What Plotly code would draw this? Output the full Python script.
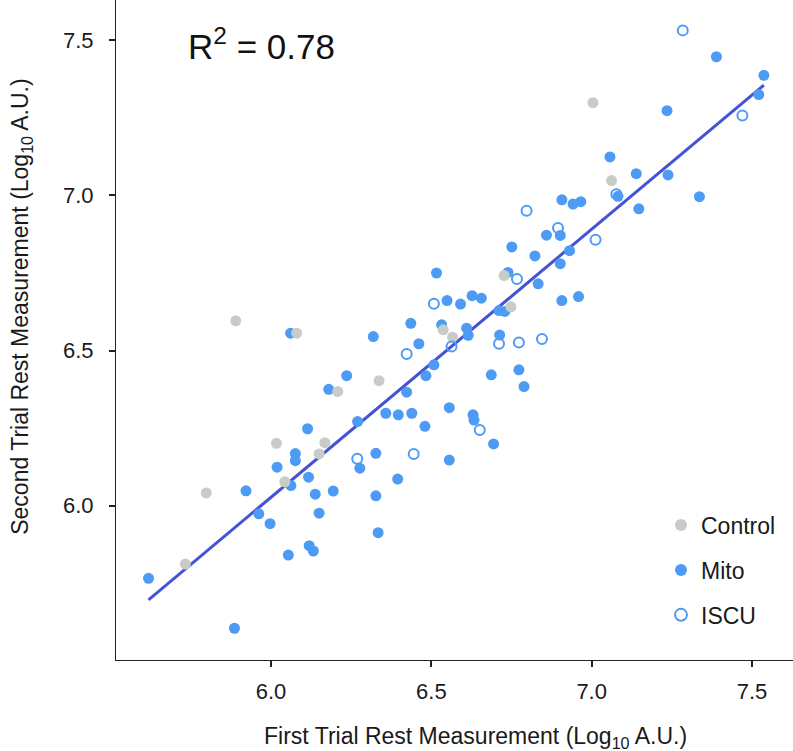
import numpy as np
import plotly.graph_objects as go

# ---- data (Log10 A.U.) ----
control_x = [5.890, 6.080, 6.537, 7.004, 7.062, 6.727, 6.748, 6.566, 6.208, 6.337,
             6.017, 6.168, 6.150, 6.043, 5.798, 5.733]
control_y = [6.596, 6.556, 6.567, 7.299, 7.048, 6.742, 6.641, 6.543, 6.368, 6.403,
             6.201, 6.203, 6.167, 6.077, 6.041, 5.812]

iscu_x = [6.508, 7.284, 7.470, 7.077, 6.797, 6.895, 7.012, 6.767, 6.563, 6.711,
          6.773, 6.845, 6.651, 6.423, 6.269, 6.445]
iscu_y = [6.651, 7.532, 7.258, 7.004, 6.951, 6.895, 6.857, 6.731, 6.513, 6.522,
          6.526, 6.537, 6.244, 6.489, 6.151, 6.167]

mito_x = [6.061, 6.516, 6.549, 6.436, 6.532, 6.319, 7.389, 7.537, 7.521, 7.235,
          7.057, 7.139, 7.238, 7.082, 7.336, 7.147, 6.907, 6.942, 6.966, 6.902,
          6.859, 6.751, 6.823, 6.931, 6.902, 6.833, 6.739, 6.591, 6.627, 6.656,
          6.907, 6.959, 6.711, 6.729, 6.610, 6.615, 6.713, 6.687, 6.773, 6.789,
          6.556, 6.630, 6.633, 6.694, 6.556, 6.461, 6.508, 6.483, 6.236, 6.180,
          6.423, 6.358, 6.397, 6.439, 6.480, 6.270, 6.114, 6.076, 6.076, 6.277,
          6.327, 6.019, 6.117, 6.395, 6.062, 6.138, 6.194, 6.327, 5.922, 5.962,
          5.997, 6.150, 6.334, 6.054, 6.119, 6.132, 5.618, 5.886]
mito_y = [6.556, 6.750, 6.661, 6.588, 6.583, 6.545, 7.447, 7.387, 7.325, 7.273,
          7.124, 7.070, 7.066, 6.997, 6.996, 6.957, 6.986, 6.972, 6.980, 6.871,
          6.872, 6.834, 6.805, 6.822, 6.780, 6.715, 6.752, 6.650, 6.677, 6.669,
          6.661, 6.674, 6.629, 6.626, 6.572, 6.549, 6.550, 6.422, 6.438, 6.384,
          6.316, 6.293, 6.276, 6.199, 6.147, 6.522, 6.454, 6.419, 6.419, 6.375,
          6.366, 6.298, 6.293, 6.298, 6.256, 6.271, 6.248, 6.168, 6.145, 6.121,
          6.169, 6.124, 6.092, 6.086, 6.065, 6.037, 6.047, 6.032, 6.048, 5.974,
          5.942, 5.976, 5.913, 5.841, 5.871, 5.854, 5.766, 5.605]

tick_vals = [6.0, 6.5, 7.0, 7.5]
tick_text = ["6.0", "6.5", "7.0", "7.5"]
r2_label = "R<sup>2</sup> = 0.78"

# ---- regression line fitted on all points ----
all_x = np.array(control_x + mito_x + iscu_x)
all_y = np.array(control_y + mito_y + iscu_y)
slope, intercept = np.polyfit(all_x, all_y, 1)
fit_x = np.array([all_x.min(), all_x.max()])
fit_y = slope * fit_x + intercept

BLUE = "#4d9bf5"
GRAY = "#c7ccc9"
LINE = "#4452d6"
FONT = "Liberation Sans, Arial, Helvetica, sans-serif"

fig = go.Figure()
fig.add_trace(go.Scatter(x=fit_x, y=fit_y, mode="lines",
                         line=dict(color=LINE, width=3), showlegend=False, hoverinfo="skip"))
fig.add_trace(go.Scatter(x=mito_x, y=mito_y, mode="markers", name="Mito",
                         legendgroup="b", legendrank=2,
                         marker=dict(color=BLUE, size=11, line=dict(width=0))))
fig.add_trace(go.Scatter(x=control_x, y=control_y, mode="markers", name="Control",
                         legendgroup="a", legendrank=1,
                         marker=dict(color=GRAY, size=11, line=dict(width=0))))
fig.add_trace(go.Scatter(x=iscu_x, y=iscu_y, mode="markers", name="ISCU",
                         legendgroup="c", legendrank=3,
                         marker=dict(symbol="circle-open", color=BLUE, size=10,
                                     line=dict(width=2, color=BLUE))))

axis_common = dict(showgrid=False, zeroline=False, showline=True, linecolor="#222",
                   linewidth=1.2, ticks="outside", ticklen=6, tickwidth=1.5,
                   tickcolor="#222", tickfont=dict(family=FONT, size=22, color="#1a1a1a"),
                   tickvals=tick_vals, ticktext=tick_text)

fig.update_layout(
    width=793, height=751,
    margin=dict(l=116, r=0, t=0, b=91),
    paper_bgcolor="white", plot_bgcolor="white",
    font=dict(family=FONT, color="#1a1a1a"),
    xaxis=dict(range=[5.5166, 7.6278], ticklabelstandoff=5, **axis_common),
    yaxis=dict(range=[5.5027, 7.6299], ticklabelstandoff=11, **axis_common),
    legend=dict(x=0.805, y=0.237, xanchor="left", yanchor="top",
                font=dict(family=FONT, size=23, color="#1a1a1a"),
                tracegroupgap=12, traceorder="grouped", bgcolor="rgba(0,0,0,0)",
                itemsizing="constant"),
    annotations=[
        dict(text=r2_label, xref="paper", yref="paper", x=0.104, y=0.933,
             xanchor="left", yanchor="middle", showarrow=False,
             font=dict(family=FONT, size=35, color="#111")),
        dict(text="First Trial Rest Measurement (Log<sub>10</sub> A.U.)",
             xref="paper", yref="paper", x=0.531, y=-0.117,
             xanchor="center", yanchor="middle", showarrow=False,
             font=dict(family=FONT, size=23, color="#1a1a1a")),
        dict(text="Second Trial Rest Measurement (Log<sub>10</sub> A.U.)",
             xref="paper", yref="paper", x=-0.139, y=0.535, textangle=-90,
             xanchor="center", yanchor="middle", showarrow=False,
             font=dict(family=FONT, size=23, color="#1a1a1a")),
    ],
)

fig.write_html("out.html", config={"displayModeBar": False},
               post_script="document.body.style.margin='0';")
